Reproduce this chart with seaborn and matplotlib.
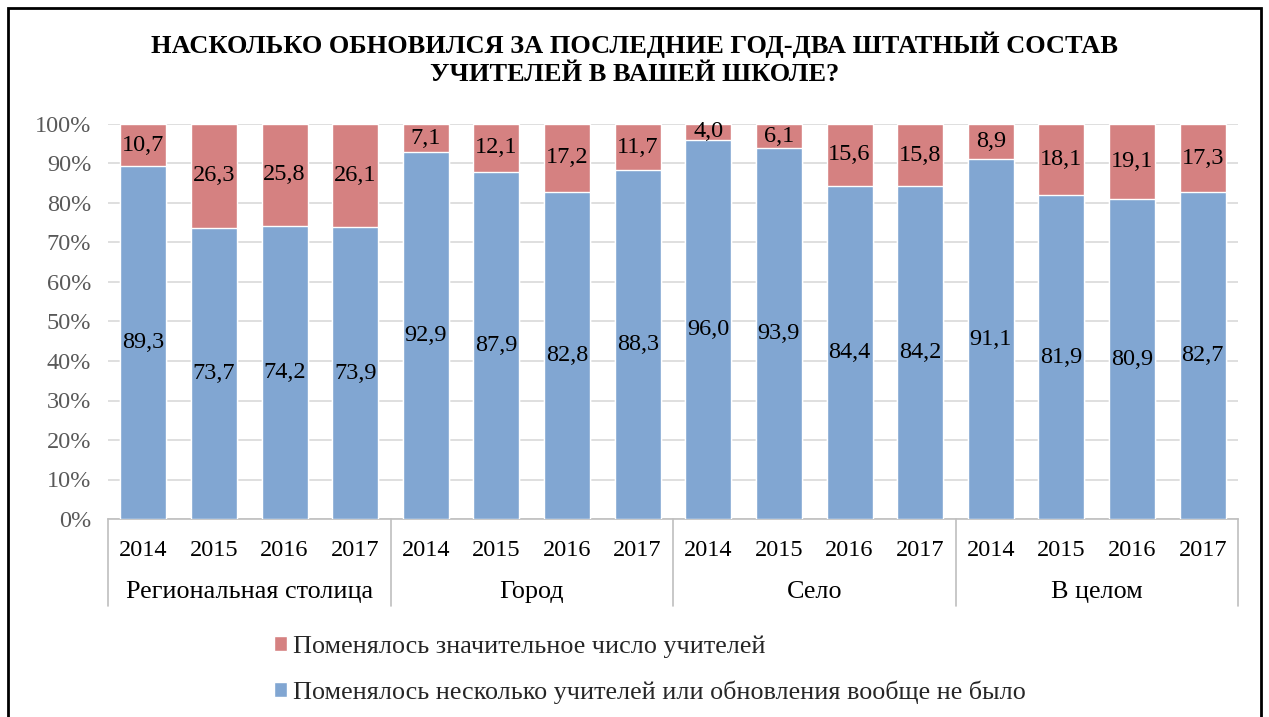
import pandas as pd
import matplotlib.pyplot as plt
import seaborn as sns
from matplotlib.patches import Rectangle, Patch

# Data
groups = ['Региональная столица', 'Город', 'Село', 'В целом']
years = ['2014', '2015', '2016', '2017']
few_changed = [89.3, 73.7, 74.2, 73.9,
               92.9, 87.9, 82.8, 88.3,
               96.0, 93.9, 84.4, 84.2,
               91.1, 81.9, 80.9, 82.7]
many_changed = [10.7, 26.3, 25.8, 26.1,
                7.1, 12.1, 17.2, 11.7,
                4.0, 6.1, 15.6, 15.8,
                8.9, 18.1, 19.1, 17.3]
label_many = 'Поменялось значительное число учителей'
label_few = 'Поменялось несколько учителей или обновления вообще не было'
title = 'НАСКОЛЬКО ОБНОВИЛСЯ ЗА ПОСЛЕДНИЕ ГОД-ДВА ШТАТНЫЙ СОСТАВ\nУЧИТЕЛЕЙ В ВАШЕЙ ШКОЛЕ?'

blue = '#81A6D2'
red = '#D58181'

df = pd.DataFrame({
    'key': [g + ' ' + y for g in groups for y in years],
    'year': [y for g in groups for y in years],
    'few': few_changed,
    'many': many_changed,
})
df['total'] = df['few'] + df['many']

sns.set_theme(style='white')
plt.rcParams['font.family'] = ['Liberation Serif', 'DejaVu Serif']

fig = plt.figure(figsize=(12.69, 7.17), dpi=100)
ax = fig.add_axes([108 / 1269, 1 - 519 / 717, 1130 / 1269, 395 / 717])

# stacked bars: total in red, blue part on top of it
sns.barplot(data=df, x='key', y='total', order=df['key'], color=red,
            saturation=1, width=0.65, ax=ax, zorder=2)
sns.barplot(data=df, x='key', y='few', order=df['key'], color=blue,
            saturation=1, width=0.65, ax=ax, zorder=3)

# data labels
for i, row in df.iterrows():
    ax.text(i, row['few'] / 2, f"{row['few']:.1f}".replace('.', ','),
            ha='center', va='center', fontsize=17.5, color='black', zorder=4)
    ax.text(i, row['few'] + row['many'] / 2, f"{row['many']:.1f}".replace('.', ','),
            ha='center', va='center', fontsize=17.5, color='black', zorder=4)

ax.set_ylim(0, 100)
ax.set_xlim(-0.5, len(df) - 0.5)
ax.set_yticks(range(0, 101, 10))
ax.set_yticklabels([f'{v}%' for v in range(0, 101, 10)], fontsize=17.5, color='#595959')
ax.tick_params(axis='y', length=0, pad=12)
ax.yaxis.grid(True, color='#D9D9D9', linewidth=1.2, zorder=0)
ax.set_axisbelow(True)
for s in ['top', 'right', 'left']:
    ax.spines[s].set_visible(False)
ax.spines['bottom'].set_color('#BFBFBF')
ax.spines['bottom'].set_linewidth(1.2)
ax.set_xlabel('')
ax.set_ylabel('')

# multi-level category axis
ax.set_xticks(range(len(df)))
ax.set_xticklabels(df['year'], fontsize=17.5, color='black')
ax.tick_params(axis='x', length=0, pad=15)
trans = ax.get_xaxis_transform()
for k in range(len(groups) + 1):
    xpos = k * len(years) - 0.5
    ax.plot([xpos, xpos], [0, -0.22], color='#BFBFBF', lw=1.2,
            transform=trans, clip_on=False)
for k, g in enumerate(groups):
    ax.text(k * len(years) + 1.5, -0.185, g, transform=trans,
            ha='center', va='center', fontsize=18.8, color='black')

fig.suptitle(title, x=0.5, y=1 - 32 / 717, fontsize=19, fontweight='bold',
             linespacing=1.25, color='black', va='top')

handles = [Patch(facecolor=red, label=label_many),
           Patch(facecolor=blue, label=label_few)]
fig.legend(handles=handles, loc='upper left', bbox_to_anchor=(250 / 1269, 1 - 612 / 717),
           frameon=False, fontsize=18.8, handlelength=0.5, handleheight=0.5,
           handletextpad=0.25, labelspacing=0.85)

fig.patches.append(Rectangle((8 / 1269, -0.01), 1253 / 1269, 1.01 - 8 / 717,
                             transform=fig.transFigure, fill=False,
                             edgecolor='black', linewidth=2))

fig.savefig('out.png', dpi=100)
